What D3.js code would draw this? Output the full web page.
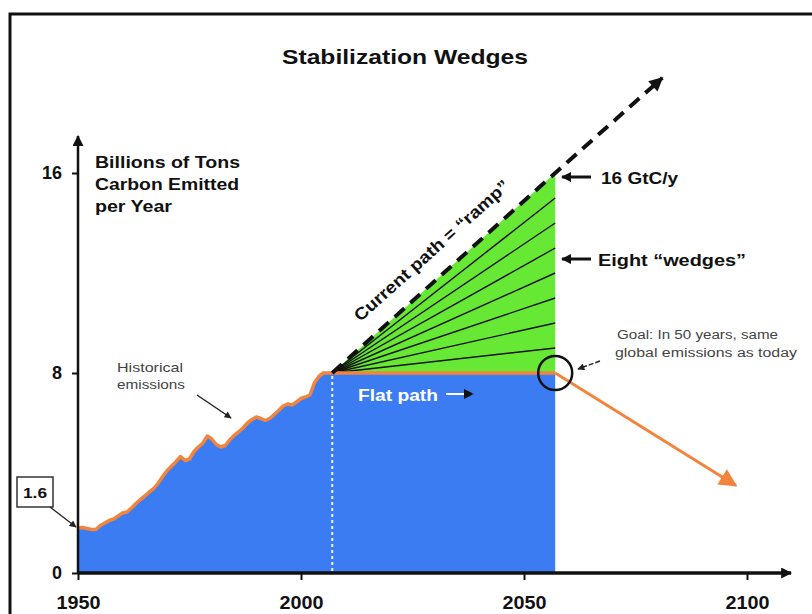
<!DOCTYPE html>
<html>
<head>
<meta charset="utf-8">
<script src="https://cdn.jsdelivr.net/npm/d3@7"></script>
<style>
body{margin:0;background:#fff;}
</style>
</head>
<body>
<div id="chart"></div>
<script>
// -----------------------------------------
//DATA
// -----------------------------------------
var histYears = [1950,1951,1952,1953,1954,1955,1956,1957,1958,1959,
  1960,1961,1962,1963,1964,1965,1966,1967,1968,1969,
  1970,1971,1972,1973,1974,1975,1976,1977,1978,1979,
  1980,1981,1982,1983,1984,1985,1986,1987,1988,1989,
  1990,1991,1992,1993,1994,1995,1996,1997,1998,1999,
  2000,2001,2002,2003,2004,2005,2006,2007];
var histValues = [1.80,1.82,1.78,1.74,1.74,1.90,2.00,2.10,2.16,2.28,
  2.40,2.44,2.60,2.78,2.94,3.08,3.24,3.38,3.60,3.86,
  4.10,4.28,4.46,4.66,4.50,4.56,4.86,5.04,5.20,5.48,
  5.36,5.14,5.04,5.10,5.32,5.50,5.64,5.80,6.00,6.14,
  6.24,6.18,6.10,6.18,6.34,6.50,6.68,6.76,6.72,6.84,
  6.98,7.04,7.12,7.60,7.86,8.00,8.00,8.00];
var flatYears = [2007, 2057];
var flatValues = [8, 8];
var rampYears = [2007, 2057, 2081];
var rampValues = [8, 16, 19.8];
var wedgeEnds = [9, 10, 11, 12, 13, 14, 15];
var goalYears = [2057, 2097.5];
var goalValues = [8, 3.5];
var xTicks = [1950, 2000, 2050, 2100];
var yTicks = [0, 8, 16];
var startValueLabel = "1.6";

// -----------------------------------------
//FORMAT VARIABLES
// -----------------------------------------
var W = 812, H = 614;
var fontF = "'Liberation Sans', Arial, sans-serif";
var blue = "#3b7cf3";
var green = "#66e834";
var orange = "#f2843c";
var ink = "#111";

var x = d3.scaleLinear().domain([1950, 2100]).range([78, 747]);
var y = d3.scaleLinear().domain([0, 16]).range([573, 173]);

var svg = d3.select("#chart").append("svg")
  .attr("width", W)
  .attr("height", H)
  .style("display", "block");

//arrow heads
var defs = svg.append("defs");
function marker(id, color, w, h){
  defs.append("marker")
    .attr("id", id)
    .attr("viewBox", "0 0 10 10")
    .attr("refX", 9)
    .attr("refY", 5)
    .attr("markerUnits", "userSpaceOnUse")
    .attr("markerWidth", w)
    .attr("markerHeight", h)
    .attr("orient", "auto")
    .append("path")
    .attr("d", "M0,0 L10,5 L0,10 z")
    .attr("fill", color);
}
marker("ahAxis", ink, 14, 11);
marker("ahRamp", ink, 18, 14);
marker("ahOrange", orange, 22, 18);
marker("ahSmall", "#222", 9, 7);
marker("ahLabel", ink, 12, 10);

//frame (only top and left visible)
svg.append("rect")
  .attr("x", 10).attr("y", 14)
  .attr("width", 820).attr("height", 640)
  .attr("fill", "none")
  .attr("stroke", ink)
  .attr("stroke-width", 3);

// -----------------------------------------
//AREAS
// -----------------------------------------
var histPts = histYears.map(function(d, i){ return [d, histValues[i]]; });
var flatPts = flatYears.map(function(d, i){ return [d, flatValues[i]]; });
var pathPts = histPts.concat(flatPts.slice(1));

svg.append("path")
  .datum(pathPts)
  .attr("d", d3.area().x(function(d){ return x(d[0]); }).y0(y(0)).y1(function(d){ return y(d[1]); }))
  .attr("fill", blue);

//green wedge triangle
var tri = [[rampYears[0], rampValues[0]], [rampYears[1], rampValues[1]], [flatYears[1], flatValues[1]]];
svg.append("path")
  .attr("d", d3.line().x(function(d){ return x(d[0]); }).y(function(d){ return y(d[1]); })(tri) + "Z")
  .attr("fill", green);

//wedge lines
svg.selectAll(".wedge").data(wedgeEnds).enter().append("line")
  .attr("class", "wedge")
  .attr("x1", x(rampYears[0])).attr("y1", y(rampValues[0]))
  .attr("x2", x(flatYears[1])).attr("y2", function(d){ return y(d); })
  .attr("stroke", ink)
  .attr("stroke-width", 1.4);

//white dotted line at start of flat path
svg.append("line")
  .attr("x1", x(flatYears[0])).attr("x2", x(flatYears[0]))
  .attr("y1", y(flatValues[0]) + 3).attr("y2", y(0))
  .attr("stroke", "#eef4ff")
  .attr("stroke-width", 2)
  .attr("stroke-dasharray", "3,3");

//orange emissions line
svg.append("path")
  .datum(pathPts)
  .attr("d", d3.line().x(function(d){ return x(d[0]); }).y(function(d){ return y(d[1]); }))
  .attr("fill", "none")
  .attr("stroke", orange)
  .attr("stroke-width", 3.5)
  .attr("stroke-linejoin", "round");

//goal arrow (orange, going down)
svg.append("line")
  .attr("x1", x(goalYears[0])).attr("y1", y(goalValues[0]))
  .attr("x2", x(goalYears[1])).attr("y2", y(goalValues[1]))
  .attr("stroke", orange)
  .attr("stroke-width", 3)
  .attr("marker-end", "url(#ahOrange)");

//ramp dashed line
svg.append("path")
  .datum(rampYears.map(function(d, i){ return [d, rampValues[i]]; }))
  .attr("d", d3.line().x(function(d){ return x(d[0]); }).y(function(d){ return y(d[1]); }))
  .attr("fill", "none")
  .attr("stroke", ink)
  .attr("stroke-width", 4)
  .attr("stroke-dasharray", "13,8")
  .attr("marker-end", "url(#ahRamp)");

//goal circle
svg.append("circle")
  .attr("cx", x(flatYears[1]))
  .attr("cy", y(flatValues[1]))
  .attr("r", 17)
  .attr("fill", "none")
  .attr("stroke", ink)
  .attr("stroke-width", 2.5);

// -----------------------------------------
//AXES
// -----------------------------------------
var xAxis = svg.append("g")
  .attr("transform", "translate(0," + y(0) + ")")
  .call(d3.axisBottom(x).tickValues(xTicks).tickFormat(d3.format("d")).tickSize(7).tickSizeOuter(0).tickPadding(16));
var yAxis = svg.append("g")
  .attr("transform", "translate(" + x(1950) + ",0)")
  .call(d3.axisLeft(y).tickValues(yTicks).tickSize(6).tickSizeOuter(0).tickPadding(10));

[xAxis, yAxis].forEach(function(g){
  g.select(".domain").remove();
  g.selectAll(".tick line").attr("stroke", ink).attr("stroke-width", 2);
  g.selectAll(".tick text")
    .attr("fill", ink)
    .style("font-family", fontF)
    .style("font-weight", "bold")
    .style("font-size", "18px");
});
xAxis.selectAll(".tick text").attr("textLength", 44).attr("lengthAdjust", "spacingAndGlyphs");

svg.append("line")
  .attr("x1", x(1950)).attr("y1", y(0))
  .attr("x2", 791).attr("y2", y(0))
  .attr("stroke", ink).attr("stroke-width", 3.5)
  .attr("marker-end", "url(#ahAxis)");
svg.append("line")
  .attr("x1", x(1950)).attr("y1", y(0))
  .attr("x2", x(1950)).attr("y2", 136)
  .attr("stroke", ink).attr("stroke-width", 2.5)
  .attr("marker-end", "url(#ahAxis)");

// -----------------------------------------
//LABELS
// -----------------------------------------
function label(txt, px, py, size, len, opts){
  opts = opts || {};
  var t = svg.append("text")
    .attr("x", px).attr("y", py)
    .text(txt)
    .attr("fill", opts.fill || ink)
    .style("font-family", fontF)
    .style("font-weight", opts.weight || "bold")
    .style("font-size", size + "px");
  if(len) t.attr("textLength", len).attr("lengthAdjust", "spacingAndGlyphs");
  if(opts.anchor) t.attr("text-anchor", opts.anchor);
  return t;
}

label("Stabilization Wedges", 282, 64, 21, 246);

label("Billions of Tons", 95, 168, 16, 145);
label("Carbon Emitted", 95, 190, 16, 144);
label("per Year", 95, 212, 16, 77);

//1.6 box
svg.append("rect")
  .attr("x", 17).attr("y", 477)
  .attr("width", 36).attr("height", 30)
  .attr("fill", "#fff")
  .attr("stroke", "#333")
  .attr("stroke-width", 1.5);
label(startValueLabel, 35, 498, 15, 24, {anchor: "middle"});
svg.append("line")
  .attr("x1", 50).attr("y1", 507)
  .attr("x2", x(1950) - 2).attr("y2", y(histValues[0]) - 1)
  .attr("stroke", "#222").attr("stroke-width", 1.3)
  .attr("marker-end", "url(#ahSmall)");

//historical emissions note
label("Historical", 117, 372, 13, 66, {weight: "normal", fill: "#444"});
label("emissions", 117, 389, 13, 68, {weight: "normal", fill: "#444"});
svg.append("line")
  .attr("x1", 197).attr("y1", 395)
  .attr("x2", 231).attr("y2", 418)
  .attr("stroke", "#222").attr("stroke-width", 1.5)
  .attr("marker-end", "url(#ahSmall)");

//flat path
label("Flat path", 358, 401, 16, 80, {fill: "#fff"});
svg.append("line")
  .attr("x1", 446).attr("y1", 394)
  .attr("x2", 473).attr("y2", 394)
  .attr("stroke", "#fff").attr("stroke-width", 2)
  .attr("marker-end", "url(#ahLabel)");
svg.select("#ahLabel path");

//ramp label rotated along the dashed line
var ang = Math.atan2(y(rampValues[1]) - y(rampValues[0]), x(rampYears[1]) - x(rampYears[0]));
var lblYear = 2033;
var lx = x(lblYear);
var ly = y(rampValues[0]) + (lx - x(rampYears[0])) * Math.tan(ang);
var off = 19;
lx += off * Math.sin(ang);
ly -= off * Math.cos(ang);
svg.append("text")
  .attr("transform", "translate(" + lx + "," + ly + ") rotate(" + (ang * 180 / Math.PI) + ")")
  .attr("text-anchor", "middle")
  .attr("textLength", 202)
  .attr("lengthAdjust", "spacingAndGlyphs")
  .text("Current path = \u201Cramp\u201D")
  .attr("fill", ink)
  .style("font-family", fontF)
  .style("font-weight", "bold")
  .style("font-size", "17px");

//right side labels
label("16 GtC/y", 601, 184, 16, 77);
svg.append("line")
  .attr("x1", 591).attr("y1", 177)
  .attr("x2", 562).attr("y2", 177)
  .attr("stroke", ink).attr("stroke-width", 3)
  .attr("marker-end", "url(#ahLabel)");

label("Eight \u201Cwedges\u201D", 598, 266, 16, 148);
svg.append("line")
  .attr("x1", 591).attr("y1", 259)
  .attr("x2", 562).attr("y2", 259)
  .attr("stroke", ink).attr("stroke-width", 3)
  .attr("marker-end", "url(#ahLabel)");

label("Goal: In 50 years, same", 617, 339, 12, 161, {weight: "normal", fill: "#444"});
label("global emissions as today", 615, 357, 12, 182, {weight: "normal", fill: "#444"});
svg.append("line")
  .attr("x1", 600).attr("y1", 361)
  .attr("x2", 578).attr("y2", 369)
  .attr("stroke", "#222").attr("stroke-width", 1.5)
  .attr("stroke-dasharray", "5,2")
  .attr("marker-end", "url(#ahSmall)");
</script>
</body>
</html>
